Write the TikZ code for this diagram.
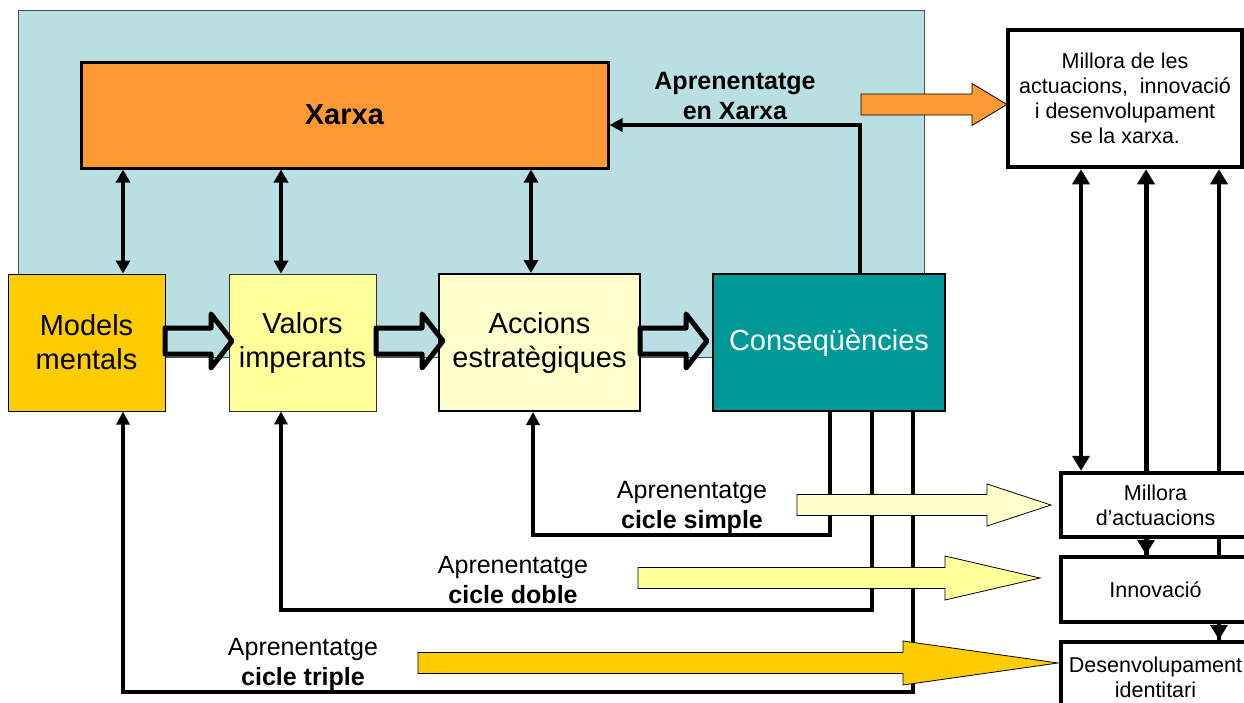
\documentclass[tikz,border=0pt]{standalone}
\usepackage{fontspec}
\setmainfont{Liberation Sans}
\usetikzlibrary{arrows.meta}

\definecolor{netbg}{HTML}{BADFE2}
\definecolor{netorange}{HTML}{FF9933}
\definecolor{gold}{HTML}{FFCC00}
\definecolor{paleyellow}{HTML}{FFFF99}
\definecolor{cream}{HTML}{FFFFCC}
\definecolor{tealbox}{HTML}{009999}

% block arrow pointing right: style, tail x, head-start x, tip x, centre y, half shaft, half head
\newcommand{\blockarr}[7][]{%
  \draw[#1] (#2,{#5-#6}) -- (#3,{#5-#6}) -- (#3,{#5-#7}) -- (#4,#5)
    -- (#3,{#5+#7}) -- (#3,{#5+#6}) -- (#2,{#5+#6}) -- cycle;}

\tikzset{
  box/.style={rectangle, inner sep=0pt, align=center},
  lbl/.style={inner sep=0pt, align=center, font=\fontsize{25}{30}\selectfont},
  bigtxt/.style={font=\fontsize{29}{34}\selectfont},
  smalltxt/.style={font=\fontsize{21.5}{25}\selectfont},
  outbox/.style={box, draw, line width=4.5pt, fill=white, smalltxt},
  dblarrow/.style={line width=4.5pt, {Triangle[length=13pt,width=14pt]}-{Triangle[length=13pt,width=14pt]}},
  fb/.style={line width=4.5pt, line join=miter, -{Triangle[length=13pt,width=13pt]}},
  rdbl/.style={line width=4.5pt, {Triangle[length=15pt,width=17pt]}-{Triangle[length=15pt,width=17pt]}},
  rarrow/.style={line width=5pt, -{Triangle[length=15pt,width=17pt]}},
  hollow/.style={draw=black, line width=5pt, line join=round, fill=none},
  flat/.style={draw=black, line width=0.8pt},
}

\begin{document}
\begin{tikzpicture}[x=1pt,y=-1pt]
\useasboundingbox (0,0) rectangle (1244,702);
\clip (0,0) rectangle (1244,702);
\fill[white] (0,0) rectangle (1244,702);

% network panel
\node[box, draw=black!70, line width=1pt, fill=netbg,
      minimum width=906pt, minimum height=347pt] (net) at (471,183.5) {};

% right-hand column
\coordinate (r1) at (1081,0);
\coordinate (r2) at (1146,0);
\coordinate (r3) at (1219,0);

\node[outbox, minimum width=234pt, minimum height=137pt] (millora) at (1125,98.5)
  {Millora de les\\ actuacions,~ innovació\\ i desenvolupament\\ se la xarxa.};
\node[outbox, minimum width=189pt, minimum height=64pt] (ma) at (1155.5,505) {};
\node[outbox, minimum width=189pt, minimum height=65pt] (inn) at (1155.5,589.5) {};
\node[outbox, minimum width=189pt, minimum height=70pt] (des) at (1155.5,677)
  {Desenvolupament\\ identitari};

% long links up to the outcome box, passing behind the lower boxes
\draw[rarrow] (inn.north -| r2) -- (millora.south -| r2);
\draw[rarrow, line width=4.5pt] (des.north -| r3) -- (millora.south -| r3);
\node[outbox, minimum width=189pt, minimum height=64pt] at (ma) {Millora\\ d’actuacions};
\node[outbox, minimum width=189pt, minimum height=65pt] at (inn) {Innovació};

\draw[rdbl] (millora.south -| r1) -- (ma.north -| r1);
\draw[rarrow] (ma.south -| r2) -- (inn.north -| r2);
\draw[rarrow, line width=4.5pt] (inn.south -| r3) -- (des.north -| r3);

% main chain
\node[box, draw, line width=3pt, fill=netorange, bigtxt,
      minimum width=527pt, minimum height=106pt] (xarxa) at (344.5,115) {\textbf{Xarxa}};
\node[box, draw, line width=1pt, fill=gold, bigtxt,
      minimum width=157pt, minimum height=137pt] (models) at (86.5,342.5) {Models\\ mentals};
\node[box, draw=black!80, line width=0.8pt, fill=paleyellow, bigtxt,
      minimum width=147pt, minimum height=137pt] (valors) at (302.5,342.5) {Valors\\ imperants};
\node[box, draw, line width=2pt, fill=cream, bigtxt,
      minimum width=201pt, minimum height=137pt] (acc) at (539.5,342.5) {Accions\\ estratègiques};
\node[box, draw, line width=1.5pt, fill=tealbox, text=white, bigtxt,
      minimum width=232pt, minimum height=137pt] (cons) at (829,342.5) {Conseqüències};

% links between the network and each stage
\coordinate (ax1) at (123,0);
\coordinate (ax2) at (281,0);
\coordinate (ax3) at (531,0);
\draw[dblarrow] (xarxa.south -| ax1) -- (models.north -| ax1);
\draw[dblarrow] (xarxa.south -| ax2) -- (valors.north -| ax2);
\draw[dblarrow] (xarxa.south -| ax3) -- (acc.north -| ax3);

% hollow arrows along the chain
\blockarr[hollow]{165}{211}{232}{341}{13}{27}
\blockarr[hollow]{376}{422}{443}{341}{13}{27}
\blockarr[hollow]{640}{686}{707}{341}{13}{27}

% network learning loop
\coordinate (xr) at (860,125);
\draw[fb] (cons.north -| xr) -- (xr) -- (xarxa.east |- xr);
\node[lbl] (lx) at (735,96) {\textbf{Aprenentatge}\\ \textbf{en Xarxa}};

% single, double and triple loops
\coordinate (f1) at (830,535);
\coordinate (f2) at (872,610);
\coordinate (f3) at (913,692);
\coordinate (g1) at (533,0);
\coordinate (g2) at (281,0);
\coordinate (g3) at (123,0);
\draw[fb, line width=3.5pt] (cons.south -| f1) -- (f1) -| (acc.south -| g1);
\draw[fb, line width=3.5pt] (cons.south -| f2) -- (f2) -| (valors.south -| g2);
\draw[fb, line width=3.5pt] (cons.south -| f3) -- (f3) -| (models.south -| g3);

% outgoing block arrows
\blockarr[flat, fill=netorange]{861}{972}{1007}{104.5}{10.5}{21}
\blockarr[flat, fill=cream]{797}{987}{1051}{505}{10.5}{21}
\blockarr[flat, fill=paleyellow]{638}{945}{1040}{578}{10.5}{22}
\blockarr[flat, fill=gold]{418}{903}{1058}{663}{10.5}{22}

% loop labels
\node[lbl] (ls) at (692,507) {Aprenentatge\\ \textbf{cicle simple}};
\node[lbl] (ld) at (513,580) {Aprenentatge\\ \textbf{cicle doble}};
\node[lbl] (lt) at (303,664) {Aprenentatge\\ \textbf{cicle triple}};
\end{tikzpicture}
\end{document}
